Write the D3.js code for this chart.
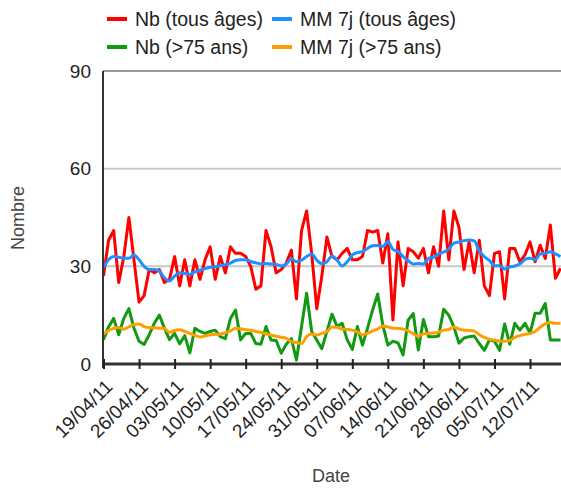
<!DOCTYPE html>
<html><head><meta charset="utf-8">
<script src="https://cdn.jsdelivr.net/npm/d3@7"></script>
<style>
html,body{margin:0;padding:0;background:#fff;}
svg{display:block;font-family:"Liberation Sans",Arial,sans-serif;}
</style></head>
<body><svg id="c" width="561" height="488"></svg>
<script>
const startDate = "2011-04-19";
const nbTous = [27,38,41,25,33,45,32,19,21,29,28,29,25,26,33,24,32,24,32,26,32,36,26,33,28,36,34,34,33,30,23,24,41,36,28,29,31,35,20,41,47,34,17,27,39,33,32,34,35.5,32,32,33,41,40.5,41,31,40,13.5,37.5,24,35.5,34.5,32.5,35.5,28,36,30,47,32,47,42,29,37.5,28,38,24,21,34,34.5,20,35.5,35.5,31.4,33.5,37.5,31.4,36.5,32.4,42.7,26.3,29.4];
const mmTous = [29.7,32,33,32.8,32.5,32.5,33.5,32,30,29,29,28.5,26.5,25.5,27,28,27.8,27.5,28.3,28.8,29.3,29.7,29.9,30.2,30.5,31,31.8,32,32,31.5,31.1,30.8,30.9,30.7,30.6,30.1,30.7,32.3,31.4,31.9,33,33.8,31.9,30.8,31.4,33.2,31.9,30.1,31.4,33.5,34.2,34.5,35.5,36.3,36.4,36.1,37.6,35.2,34.6,33,31.7,30.7,30.9,30.7,32.4,32.8,33.8,34.4,35.3,37.1,37.5,37.9,38.1,37.8,34.8,33,31.8,30.2,30.2,29.2,29.8,30.1,30.7,32.1,32.5,32,33.8,34,34.5,33.8,33];
const nb75 = [7.5,11.4,14,9,14,17,11,7,6,9,12.5,15,11,7.5,9.4,6.2,8.7,3.4,11,10,9.4,10,10.4,8.4,7.8,14,16.6,7.4,9.4,9.4,6.3,6.1,11.5,7.4,7.2,3.3,6.1,7.8,1.2,11.5,21.7,10,7.4,4.7,10,15.3,11.5,12.5,7.4,4.5,11.5,5.8,11,16.6,21.5,12,5.8,7,6.5,2.8,13.5,15.5,4.3,13.7,8.4,8.4,8.6,16.8,15,11.4,6.4,8,8.4,8.6,6.3,4.2,7.4,7,4.2,12.3,6.1,12.5,10.4,12.5,9.5,15.6,15.6,18.6,7.4,7.4,7.4];
const mm75 = [9.2,10.3,11,11.2,10.7,11.4,12.1,12.3,11.5,11.2,11.1,11,10.9,9.7,10.3,10.5,10,9.4,8.8,8.3,8.6,9,9.1,9.2,9.6,10.2,11,10.8,10.5,10.4,10,9.7,9.3,8.9,8.5,8.2,7.9,6.9,6.6,6.3,8.4,9.2,8.9,9.4,9.9,11.4,11.3,10.7,10.6,10.4,9.9,9,9.4,10.2,10.7,11.7,11.4,11,11,10.7,10.2,9.3,8.5,9.3,9.4,9.5,9.8,10.4,10.6,11.4,10.7,10.4,10.3,10.1,9,8.2,7.6,7.4,7,7,7.2,8.2,8.7,9.1,9.4,10,11.3,12.3,12.8,12.5,12.5];
const tickLabels = ["19/04/11","26/04/11","03/05/11","10/05/11","17/05/11","24/05/11","31/05/11","07/06/11","14/06/11","21/06/11","28/06/11","05/07/11","12/07/11"];
const yTicks = [0,30,60,90];
const seriesNames = ["Nb (tous âges)","MM 7j (tous âges)","Nb (>75 ans)","MM 7j (>75 ans)"];
const seriesColors = ["#ff0000","#1e90ff","#119911","#ff9e00"];

const parse = d3.timeParse("%Y-%m-%d");
const fmt = d3.timeFormat("%d/%m/%y");
const t0 = parse(startDate);
const dates = nbTous.map((_, i) => d3.timeDay.offset(t0, i));

const svg = d3.select("#c");
const x = d3.scaleTime().domain([t0, dates[dates.length - 1]]).range([103.5, 560.5]);
const y = d3.scaleLinear().domain([0, 90]).range([364, 71]);

// grid
svg.append("g").selectAll("line").data(yTicks.filter(v => v > 0)).join("line")
  .attr("x1", 103).attr("x2", 561)
  .attr("y1", d => y(d)).attr("y2", d => y(d))
  .attr("stroke", d => d === 90 ? "#999" : "#c8c8c8").attr("stroke-width", 2);

// y axis labels
const yAxis = d3.axisLeft(y).tickValues(yTicks).tickSize(0).tickPadding(0);
const gy = svg.append("g").attr("transform", "translate(103,0)").call(yAxis);
gy.select(".domain").remove();
gy.selectAll("text").attr("x", -12).attr("font-size", 19).attr("fill", "#222")
  .attr("font-family", "Liberation Sans, Arial, sans-serif");

// lines
const lineStraight = (arr) => d3.line().x((d, i) => x(dates[i])).y(d => y(d))(arr);
const lineSmooth = (arr) => d3.line().curve(d3.curveMonotoneX).x((d, i) => x(dates[i])).y(d => y(d))(arr);
const plot = svg.append("g");
plot.append("path").attr("d", lineStraight(nbTous)).attr("fill", "none").attr("stroke", seriesColors[0]).attr("stroke-width", 3).attr("stroke-linejoin", "round");
plot.append("path").attr("d", lineStraight(nb75)).attr("fill", "none").attr("stroke", seriesColors[2]).attr("stroke-width", 3).attr("stroke-linejoin", "round");
plot.append("path").attr("d", lineSmooth(mm75)).attr("fill", "none").attr("stroke", seriesColors[3]).attr("stroke-width", 3).attr("stroke-linejoin", "round");
plot.append("path").attr("d", lineSmooth(mmTous)).attr("fill", "none").attr("stroke", seriesColors[1]).attr("stroke-width", 3).attr("stroke-linejoin", "round");

// axes lines
svg.append("line").attr("x1", 103).attr("x2", 103).attr("y1", y(90)).attr("y2", y(0) + 4)
  .attr("stroke", "#333").attr("stroke-width", 2);
const tickDates = tickLabels.map(s => d3.timeParse("%d/%m/%y")(s));
const xAxis = d3.axisBottom(x).tickValues(tickDates).tickFormat(fmt).tickSize(5).tickPadding(0);
const gx = svg.append("g").attr("transform", "translate(0," + y(0) + ")").call(xAxis);
gx.select(".domain").attr("d", "M103,0H561").attr("stroke", "#333").attr("stroke-width", 3);
gx.selectAll(".tick line").attr("y1", -5).attr("y2", 5).attr("stroke", "#222").attr("stroke-width", 2);
gx.selectAll(".tick text")
  .attr("font-size", 19).attr("fill", "#222").attr("font-family", "Liberation Sans, Arial, sans-serif")
  .attr("text-anchor", "end").attr("dy", "0.35em")
  .attr("transform", "translate(5,19) rotate(-45)").attr("y", 0).attr("x", 0);

// axis titles
svg.append("text").attr("x", 331).attr("y", 482).attr("text-anchor", "middle")
  .attr("font-size", 18).attr("fill", "#444").text("Date");
svg.append("text").attr("transform", "translate(24,218) rotate(-90)").attr("text-anchor", "middle")
  .attr("font-size", 18).attr("fill", "#444").text("Nombre");

// legend
const legPos = [[107, 19], [272, 19], [107, 47], [272, 47]];
const leg = svg.append("g").selectAll("g").data(seriesNames).join("g")
  .attr("transform", (d, i) => "translate(" + legPos[i][0] + "," + legPos[i][1] + ")");
leg.append("line").attr("x1", 0).attr("x2", 20).attr("y1", 0).attr("y2", 0)
  .attr("stroke", (d, i) => seriesColors[i]).attr("stroke-width", 4);
leg.append("text").attr("x", 28).attr("y", 0).attr("dy", "0.35em")
  .attr("font-size", 19.5).attr("fill", "#222").text(d => d);
</script></body></html>
